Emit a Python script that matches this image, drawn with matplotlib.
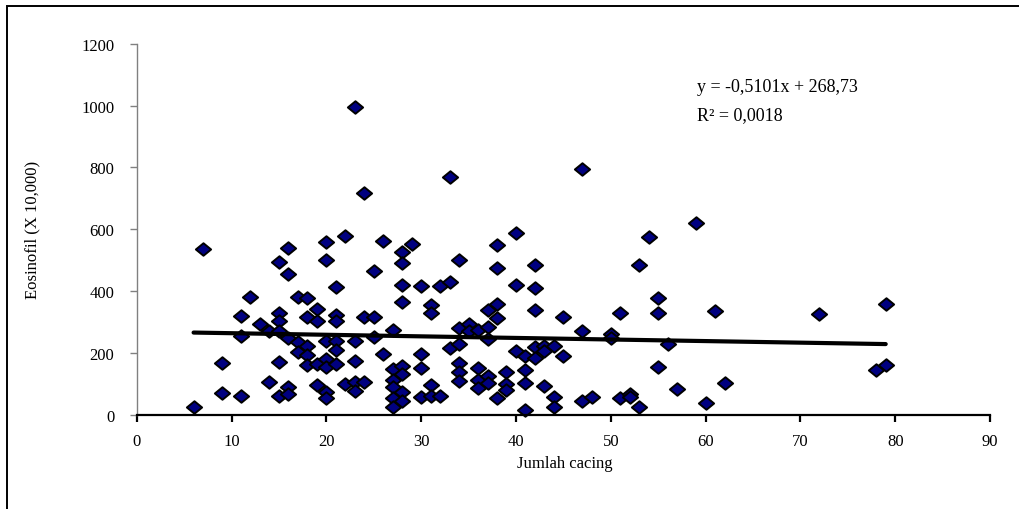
import matplotlib
matplotlib.use("Agg")
import matplotlib.pyplot as plt
from matplotlib.patches import Rectangle
from matplotlib.path import Path
import numpy as np

# ---- data ----
jumlah_cacing = [
    6, 7, 9, 9, 11, 11, 11, 12, 13, 14, 14,
    15, 15, 15, 15, 15, 15,
    16, 16, 16, 16, 16,
    17, 17, 17,
    18, 18, 18, 18, 18,
    19, 19, 19, 19,
    20, 20, 20, 20, 20, 20, 20,
    21, 21, 21, 21, 21, 21,
    22, 22,
    23, 23, 23, 23, 23,
    24, 24, 24,
    25, 25, 25,
    26, 26,
    27, 27, 27, 27, 27, 27,
    28, 28, 28, 28, 28, 28, 28, 28,
    29,
    30, 30, 30, 30,
    31, 31, 31, 31,
    32, 32,
    33, 33, 33,
    34, 34, 34, 34, 34, 34,
    35, 35,
    36, 36, 36, 36,
    37, 37, 37, 37, 37,
    38, 38, 38, 38, 38,
    39, 39, 39,
    40, 40, 40,
    41, 41, 41, 41,
    42, 42, 42, 42, 42,
    43, 43, 43,
    44, 44, 44,
    45, 45,
    47, 47, 47,
    48,
    50, 50,
    51, 51,
    52, 52,
    53, 53,
    54,
    55, 55, 55,
    56, 57, 59, 60, 61, 62, 72, 78, 79, 79,
]
eosinofil = [
    24, 536, 166, 69, 59, 320, 254, 380, 292, 107, 270,
    493, 329, 304, 270, 169, 61,
    538, 455, 247, 89, 67,
    380, 236, 204,
    377, 315, 223, 193, 161,
    342, 304, 164, 96,
    560, 501, 239, 180, 153, 74, 53,
    412, 322, 304, 239, 210, 164,
    579, 99,
    996, 239, 175, 107, 78,
    716, 315, 105,
    466, 315, 250,
    562, 196,
    274, 148, 113, 91, 53, 24,
    527, 490, 420, 365, 157, 132, 72, 45,
    552,
    415, 195, 150, 56,
    355, 329, 96, 61,
    415, 61,
    768, 430, 217,
    501, 281, 230, 167, 139, 110,
    292, 270,
    275, 150, 112, 87,
    338, 283, 246, 126, 104,
    549, 473, 358, 314, 55,
    139, 98, 81,
    588, 419, 207,
    191, 144, 104, 14,
    484, 411, 338, 219, 184,
    222, 207, 93,
    223, 58, 26,
    317, 189,
    795, 271, 44,
    58,
    262, 247,
    329, 53,
    67, 56,
    484, 24,
    576,
    376, 330, 155,
    230, 84, 620, 38, 335, 103, 327, 144, 359, 162,
]
trend_slope = -0.5101
trend_intercept = 268.73
equation_text = "y = -0,5101x + 268,73"
r2_text = "R² = 0,0018"
x_ticks = [0, 10, 20, 30, 40, 50, 60, 70, 80, 90]
y_ticks = [0, 200, 400, 600, 800, 1000, 1200]
x_label = "Jumlah cacing"
y_label = "Eosinofil (X 10,000)"

# ---- figure ----
plt.rcParams['font.family'] = ['Liberation Serif', 'DejaVu Serif']
W, H = 1019, 510
fig = plt.figure(figsize=(W / 100, H / 100), dpi=100)
fig.patch.set_facecolor('white')

ax = fig.add_axes([136.7 / W, 1 - 415.7 / H, (990 - 136.7) / W, (415.7 - 44.7) / H])
ax.set_facecolor('white')

# flattened diamond marker
diamond = Path([(-1, 0), (0, 0.82), (1, 0), (0, -0.82), (-1, 0)],
               [Path.MOVETO, Path.LINETO, Path.LINETO, Path.LINETO, Path.CLOSEPOLY])
ax.plot(jumlah_cacing, eosinofil, linestyle='none', marker=diamond,
        markersize=11, markerfacecolor='#000080', markeredgecolor='black',
        markeredgewidth=1.4, zorder=3, clip_on=False)

xs = np.array([min(jumlah_cacing), max(jumlah_cacing)])
ax.plot(xs, trend_slope * xs + trend_intercept, color='black', lw=3.0,
        solid_capstyle='round', zorder=4)

ax.set_xlim(0, 90)
ax.set_ylim(0, 1200)
ax.set_xticks(x_ticks)
ax.set_yticks(y_ticks)

for s in ['top', 'right']:
    ax.spines[s].set_visible(False)
ax.spines['left'].set_color('#808080')
ax.spines['left'].set_linewidth(1.0)
ax.spines['bottom'].set_color('black')
ax.spines['bottom'].set_linewidth(1.6)
ax.spines['bottom'].set_zorder(5)

ax.tick_params(axis='x', direction='out', length=5, width=1.6, color='black',
               labelsize=12, pad=8)
ax.tick_params(axis='y', direction='out', length=5, width=1.0, color='#808080',
               labelsize=12, pad=11)

ax.set_xlabel(x_label, fontsize=12)
ax.xaxis.set_label_coords((565 - 136.7) / 853.3, (415.7 - 456) / 371)
ax.set_ylabel(y_label, fontsize=12)
ax.yaxis.set_label_coords((40 - 136.7) / 853.3, 0.5)

ax.text((697 - 136.7) / 853.3, (415.7 - 88) / 371, equation_text,
        transform=ax.transAxes, fontsize=13, va='center', ha='left')
ax.text((697 - 136.7) / 853.3, (415.7 - 116) / 371, r2_text,
        transform=ax.transAxes, fontsize=13, va='center', ha='left')

# chart-area frame
fig.patches.append(Rectangle((6.7 / W, -0.1), 1.2, 1.1 - 7.3 / H,
                             transform=fig.transFigure, fill=False,
                             edgecolor='black', lw=1.4))

fig.savefig('out.png', dpi=100, facecolor='white')
